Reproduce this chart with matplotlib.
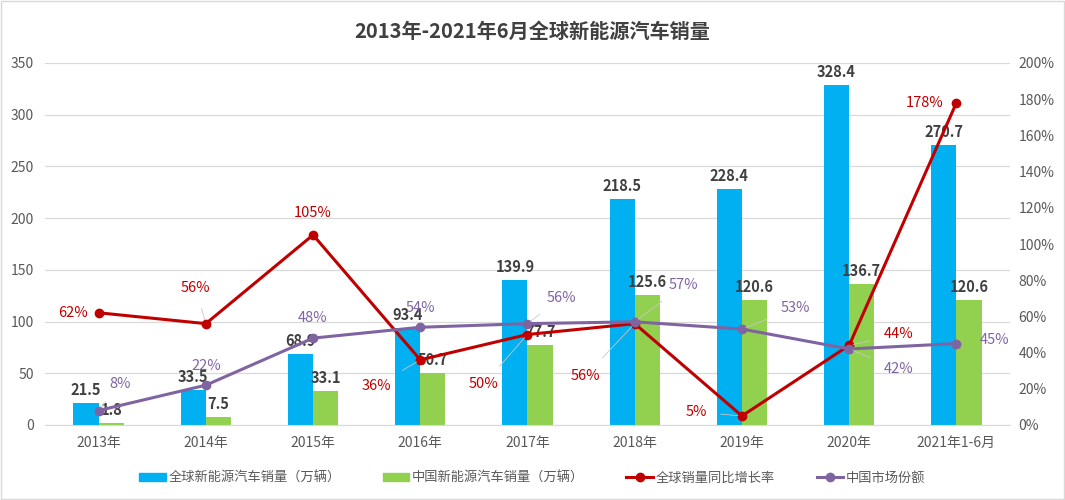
import matplotlib
matplotlib.use("Agg")
import matplotlib.pyplot as plt
from matplotlib.patches import Rectangle
from matplotlib.lines import Line2D

plt.rcParams['font.family'] = ['Noto Sans CJK SC', 'DejaVu Sans']

categories = ["2013年", "2014年", "2015年", "2016年", "2017年", "2018年", "2019年", "2020年", "2021年1-6月"]
global_sales = [21.5, 33.5, 68.9, 93.4, 139.9, 218.5, 228.4, 328.4, 270.7]
china_sales = [1.8, 7.5, 33.1, 50.7, 77.7, 125.6, 120.6, 136.7, 120.6]
global_growth = [62, 56, 105, 36, 50, 56, 5, 44, 178]
china_share = [8, 22, 48, 54, 56, 57, 53, 42, 45]
left_ticks = [0, 50, 100, 150, 200, 250, 300, 350]
right_ticks = [0, 20, 40, 60, 80, 100, 120, 140, 160, 180, 200]

# label offsets in pixels (dx, dy) and whether to draw a leader line
growth_offsets = [(-26, 0, False), (-10, 36, True), (0, 22, False), (-44, -26, True),
                  (-44, -50, True), (-49, -52, True), (-46, 4, True), (49, 11, True), (-32, 0, False)]
share_offsets = [(22, 27, True), (0, 19, False), (0, 20, False), (0, 19, False),
                 (34, 26, True), (49, 37, True), (53, 21, True), (49, -20, True), (38, 4, False)]

BLUE = "#00B0F0"
GREEN = "#92D050"
RED = "#C00000"
PURPLE = "#8064A2"
TXT = "#595959"

fig = plt.figure(figsize=(10.65, 5.0), dpi=100)
fig.patch.set_facecolor("white")
fig.patches.append(Rectangle((0.001, 0.002), 0.998, 0.996, transform=fig.transFigure,
                             fill=False, edgecolor="#D9D9D9", linewidth=1))

ax = fig.add_axes([45/1065, 1-425/500, 965/1065, 362/500])
ax2 = ax.twinx()

x = list(range(len(categories)))
w = 0.235
ax.bar([i - w/2 for i in x], global_sales, width=w, color=BLUE, zorder=2)
ax.bar([i + w/2 for i in x], china_sales, width=w, color=GREEN, zorder=2)

ax.set_ylim(0, 350)
ax.set_xlim(-0.5, len(categories) - 0.5)
ax.set_yticks(left_ticks)
ax.set_xticks(x)
ax.set_xticklabels(categories)
ax.grid(axis='y', color="#D9D9D9", linewidth=0.9, zorder=0)
ax.set_axisbelow(True)
for s in ["top", "right", "left"]:
    ax.spines[s].set_visible(False)
ax.spines["bottom"].set_color("#D9D9D9")
ax.tick_params(axis='both', length=0, colors=TXT, labelsize=10)
ax.tick_params(axis='x', pad=8)
ax.tick_params(axis='y', pad=8)

for i in x:
    ax.annotate(f"{global_sales[i]}", (i - w/2, global_sales[i]), xytext=(0, 13),
                textcoords='offset pixels', ha='center', va='center',
                fontsize=10.5, fontweight='bold', color="#404040", zorder=5)
    ax.annotate(f"{china_sales[i]}", (i + w/2, china_sales[i]), xytext=(0, 13),
                textcoords='offset pixels', ha='center', va='center',
                fontsize=10.5, fontweight='bold', color="#404040", zorder=5)

ax2.set_ylim(0, 200)
ax2.set_yticks(right_ticks)
ax2.set_yticklabels([f"{t}%" for t in right_ticks])
for s in ["top", "right", "left", "bottom"]:
    ax2.spines[s].set_visible(False)
ax2.tick_params(axis='y', length=0, colors=TXT, labelsize=10, pad=6)

ax2.plot(x, global_growth, color=RED, linewidth=2.2, marker='o', markersize=6, zorder=4)
ax2.plot(x, china_share, color=PURPLE, linewidth=2.2, marker='o', markersize=6, zorder=4)

def lab(vals, offs, color):
    for i, v in enumerate(vals):
        dx, dy, leader = offs[i]
        kw = {}
        if leader:
            kw['arrowprops'] = dict(arrowstyle='-', color="#C8C8C8", linewidth=0.6,
                                    shrinkA=8, shrinkB=3)
        ax2.annotate(f"{v}%", (i, v), xytext=(dx, dy), textcoords='offset pixels',
                     ha='center', va='center', fontsize=10.5, color=color, zorder=6, **kw)

lab(global_growth, growth_offsets, RED)
lab(china_share, share_offsets, PURPLE)

fig.text(0.5, 1-31/500, "2013年-2021年6月全球新能源汽车销量", ha='center', va='center',
         fontsize=14.5, fontweight='bold', color="#404040")

handles = [
    Rectangle((0, 0), 1, 1, color=BLUE),
    Rectangle((0, 0), 1, 1, color=GREEN),
    Line2D([0], [0], color=RED, linewidth=2.2, marker='o', markersize=6),
    Line2D([0], [0], color=PURPLE, linewidth=2.2, marker='o', markersize=6),
]
labels = ["全球新能源汽车销量（万辆）", "中国新能源汽车销量（万辆）", "全球销量同比增长率", "中国市场份额"]
leg = fig.legend(handles, labels, loc='center', bbox_to_anchor=(0.5, 1-478/500), ncol=4,
                 frameon=False, fontsize=9.5, handlelength=2.0, handleheight=0.55,
                 columnspacing=3.2, handletextpad=0.2)
for t in leg.get_texts():
    t.set_color(TXT)

fig.savefig("out.png", dpi=100, facecolor="white")
